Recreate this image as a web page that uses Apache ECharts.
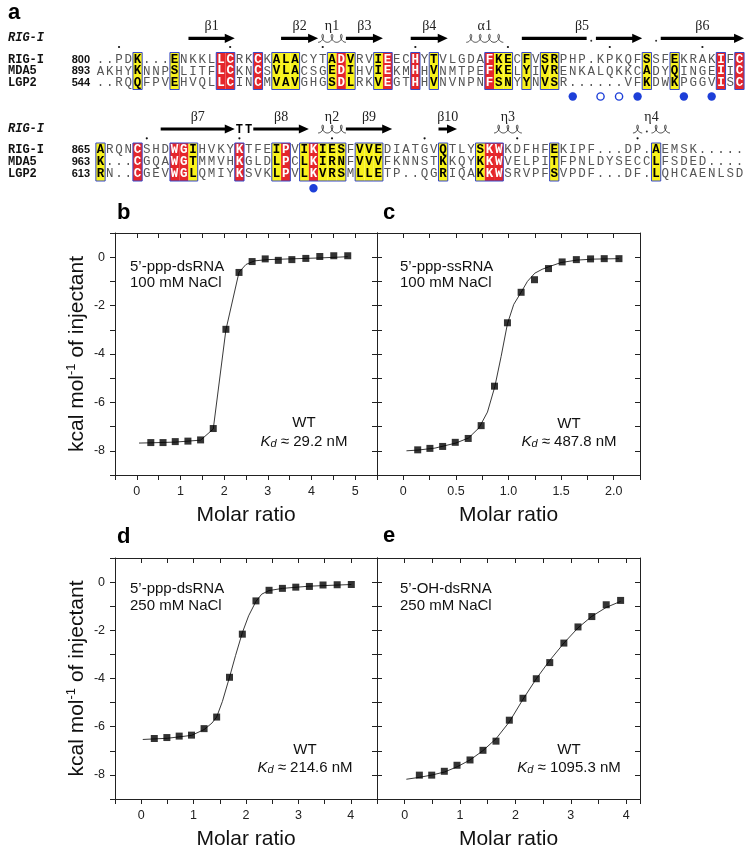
<!DOCTYPE html>
<html><head><meta charset="utf-8">
<script src="https://cdn.jsdelivr.net/npm/echarts@6/dist/echarts.min.js"></script>
<style>html,body{margin:0;padding:0;background:#fff}#c{width:751px;height:856px}</style>
</head><body><div id="c"></div>
<script>
// ================= DATA =================
// --- panel a: sequence alignment ---
const seqNames = ['RIG-I', 'MDA5', 'LGP2'];
const block1Start = [800, 893, 544];
const block1Seq = [
  '..PDK...ENKKLLCRKCKALACYTADVRVIEECHYTVLGDAFKECFVSRPHP.KPKQFSSFEKRAKIFC',
  'AKHYKNNPSLITFLCKNCSVLACSGEDIHVIEKMHHVNMTPEFKELYIVRENKALQKKCADYQINGEIIC',
  '..RQQFPVEHVQLLCINCMVAVGHGSDLRKVEGTHHVNVNPNFSNYYNVSR......VFKDWKPGGVISC'
];
const block1Red = [14, 15, 18, 27, 32, 35, 43, 68, 70];
const block1Yellow = [5, 9, 20, 21, 22, 26, 28, 31, 37, 44, 45, 47, 49, 50, 60, 63];
const block1Ticks = [3, 15, 25, 35, 45, 56, 66];
const block1Filled = [52, 59, 64, 67];
const block1Open = [55, 57];
const block1SS = [['arrow', 11, 15], ['arrow', 21, 24], ['coil', 25, 27], ['arrow', 28, 31], ['arrow', 35, 38], ['coil', 41, 44], ['line', 47, 53], ['arrow', 55, 59], ['arrow', 62, 70]];
const block1Labels = [['β1', 11, 15], ['β2', 21, 24], ['η1', 25, 27], ['β3', 28, 31], ['β4', 35, 38], ['α1', 41, 44], ['β5', 47, 59], ['β6', 62, 70]];
const block1Marks = [54, 61];

const block2Start = [865, 963, 613];
const block2Seq = [
  'ARQNCSHDWGIHVKYKTFEIPVIKIESFVVEDIATGVQTLYSKWKDFHFEKIPF...DP.AEMSK.....',
  'K...CGQAWGTMMVHKGLDLPCLKIRNFVVVFKNNSTKKQYKKWVELPITFPNLDYSECCLFSDED....',
  'RN..CGEVWGLQMIYKSVKLPVLKVRSMLLETP..QGRIQAKKWSRVPFSVPDF...DF.LQHCAENLSD'
];
const block2Red = [5, 9, 10, 16, 21, 24, 43, 44];
const block2Yellow = [1, 11, 20, 23, 25, 26, 27, 29, 30, 31, 38, 42, 50, 61];
const block2Ticks = [6, 16, 26, 36, 46, 59];
const block2Filled = [24];
const block2Open = [];
const block2SS = [['arrow', 8, 15], ['turn', 16, 17], ['arrow', 18, 23], ['coil', 25, 27], ['arrow', 28, 32], ['arrow', 38, 39], ['coil', 44, 46], ['coil', 59, 59], ['coil', 61, 62]];
const block2Labels = [['β7', 8, 15], ['β8', 18, 23], ['η2', 25, 27], ['β9', 28, 32], ['β10', 38, 39], ['η3', 44, 46], ['η4', 59, 62]];
const block2Marks = [60];

// --- ITC panels (molar ratio, kcal/mol) ---
const bX = [0.32, 0.60, 0.88, 1.17, 1.46, 1.75, 2.04, 2.34, 2.64, 2.94, 3.24, 3.55, 3.87, 4.19, 4.51, 4.83];
const bY = [-7.66, -7.66, -7.62, -7.60, -7.55, -7.08, -2.98, -0.63, -0.18, -0.07, -0.13, -0.10, -0.05, 0.03, 0.06, 0.06];
const bFitX = [0.05, 0.32, 0.88, 1.46, 1.75, 2.04, 2.34, 2.5, 2.7, 3.0, 3.5, 4.2, 4.83];
const bFitY = [-7.68, -7.67, -7.64, -7.56, -7.10, -3.00, -0.62, -0.30, -0.15, -0.10, -0.07, -0.03, 0.02];

const cX = [0.137, 0.253, 0.374, 0.494, 0.617, 0.74, 0.867, 0.99, 1.12, 1.247, 1.38, 1.51, 1.645, 1.78, 1.91, 2.05];
const cY = [-7.96, -7.90, -7.82, -7.65, -7.49, -6.96, -5.33, -2.71, -1.45, -0.93, -0.47, -0.195, -0.10, -0.07, -0.06, -0.06];
const cFitX = [0.03, 0.14, 0.3, 0.5, 0.62, 0.72, 0.8, 0.87, 0.93, 0.99, 1.05, 1.12, 1.18, 1.25, 1.32, 1.38, 1.5, 1.65, 1.8, 2.05];
const cFitY = [-8.0, -7.97, -7.89, -7.68, -7.47, -7.05, -6.4, -5.35, -4.1, -2.75, -1.95, -1.45, -1.0, -0.66, -0.5, -0.4, -0.22, -0.12, -0.08, -0.06];

const dX = [0.25, 0.49, 0.725, 0.96, 1.20, 1.44, 1.685, 1.93, 2.19, 2.44, 2.695, 2.95, 3.21, 3.47, 3.74, 4.01];
const dY = [-6.49, -6.45, -6.39, -6.35, -6.08, -5.60, -3.95, -2.16, -0.78, -0.34, -0.26, -0.21, -0.18, -0.12, -0.11, -0.10];
const dFitX = [0.03, 0.5, 0.96, 1.2, 1.35, 1.44, 1.55, 1.685, 1.8, 1.93, 2.05, 2.19, 2.3, 2.44, 2.7, 3.2, 4.01];
const dFitY = [-6.53, -6.48, -6.36, -6.12, -5.85, -5.6, -4.95, -3.95, -3.05, -2.1, -1.4, -0.8, -0.5, -0.35, -0.26, -0.17, -0.10];

const eX = [0.265, 0.488, 0.716, 0.945, 1.18, 1.414, 1.649, 1.89, 2.136, 2.377, 2.62, 2.875, 3.13, 3.38, 3.64, 3.90];
const eY = [-8.01, -8.01, -7.85, -7.60, -7.38, -6.98, -6.60, -5.73, -4.82, -4.01, -3.34, -2.53, -1.86, -1.43, -0.94, -0.76];
const eFitX = [0.03, 0.27, 0.5, 0.72, 0.95, 1.18, 1.41, 1.65, 1.89, 2.14, 2.38, 2.62, 2.88, 3.13, 3.38, 3.64, 3.9];
const eFitY = [-8.18, -8.1, -8.0, -7.88, -7.66, -7.38, -7.0, -6.5, -5.8, -4.85, -4.0, -3.25, -2.52, -1.9, -1.42, -1.05, -0.8];

const panelLetters = ['a', 'b', 'c', 'd', 'e'];
const sampleLabels = [['5’-ppp-dsRNA', '100 mM NaCl'], ['5’-ppp-ssRNA', '100 mM NaCl'], ['5’-ppp-dsRNA', '250 mM NaCl'], ['5’-OH-dsRNA', '250 mM NaCl']];
const kdValues = ['29.2', '487.8', '214.6', '1095.3'];
const xTitle = 'Molar ratio';

// ================= LAYOUT / DRAWING =================
const MONO = "'Liberation Mono','Courier New',monospace";
const SANS = "'Liberation Sans',Arial,Helvetica,sans-serif";
const SERIF = "'Liberation Serif','Times New Roman',serif";
const CW = 9.26, C0 = 100.5;
const colC = c => C0 + (c - 1) * CW;
const colL = c => colC(c) - CW / 2;
const colR = c => colC(c) + CW / 2;
const RED = '#e5262b', YEL = '#f8f21c', BLUE = '#3547c9', DOTBLUE = '#1d3fd8';

const G = [];
function txt(x, y, text, font, fill, align, valign, extra) {
  const o = { type: 'text', x: x, y: y, silent: true, z: 10, style: Object.assign({ text: text, font: font, fill: fill, textAlign: align || 'left', textVerticalAlign: valign || 'middle' }, extra || {}) };
  G.push(o); return o;
}

function drawBlock(seqs, starts, red, yellow, ticks, filled, open, ss, labels, marks, L) {
  const redS = new Set(red), yelS = new Set(yellow);
  for (let c = 1; c <= 70; c++) {
    if (redS.has(c) || yelS.has(c)) {
      G.push({ type: 'rect', silent: true, z: 1, shape: { x: colL(c), y: L.boxTop, width: CW, height: L.boxBot - L.boxTop }, style: { fill: redS.has(c) ? RED : YEL } });
    }
  }
  let c = 1;
  while (c <= 70) {
    if (redS.has(c) || yelS.has(c)) {
      let e = c;
      while (e + 1 <= 70 && (redS.has(e + 1) || yelS.has(e + 1))) e++;
      G.push({ type: 'rect', silent: true, z: 2, shape: { x: colL(c), y: L.boxTop, width: colR(e) - colL(c), height: L.boxBot - L.boxTop }, style: { fill: null, stroke: BLUE, lineWidth: 1 } });
      c = e + 1;
    } else c++;
  }
  for (let r = 0; r < 3; r++) {
    txt(8, L.rowY[r], seqNames[r], 'bold 12px ' + MONO, '#111', 'left', 'middle');
    txt(90, L.rowY[r], String(starts[r]), 'bold 11px ' + SANS, '#111', 'right', 'middle');
    for (let k = 1; k <= 70; k++) {
      const ch = seqs[r][k - 1];
      let font = '12.5px ' + MONO, fill = '#555';
      if (redS.has(k)) { font = 'bold 12.5px ' + MONO; fill = '#fff'; }
      else if (yelS.has(k)) { font = 'bold 12.5px ' + MONO; fill = '#000'; }
      txt(colC(k), L.rowY[r], ch, font, fill, 'center', 'middle');
    }
  }
  ticks.forEach(t => G.push({ type: 'circle', silent: true, shape: { cx: colC(t), cy: L.tickY, r: 1.1 }, style: { fill: '#111' } }));
  marks.forEach(t => G.push({ type: 'circle', silent: true, shape: { cx: colC(t), cy: L.ssY + 2.5, r: 1.0 }, style: { fill: '#333' } }));
  filled.forEach(t => G.push({ type: 'circle', silent: true, shape: { cx: colC(t), cy: L.circY, r: 4.2 }, style: { fill: DOTBLUE } }));
  open.forEach(t => G.push({ type: 'circle', silent: true, shape: { cx: colC(t), cy: L.circY, r: 3.6 }, style: { fill: '#fff', stroke: DOTBLUE, lineWidth: 1.4 } }));
  txt(8, L.ssY, 'RIG-I', 'italic bold 12px ' + MONO, '#111', 'left', 'middle');
  ss.forEach(s => {
    const [type, a, b] = s;
    const x1 = colL(a), x2 = colR(b), y = L.ssY;
    if (type === 'arrow') {
      const hl = 10, hh = 4.6, sh = 1.6;
      G.push({ type: 'polygon', silent: true, shape: { points: [[x1, y - sh], [x2 - hl, y - sh], [x2 - hl, y - hh], [x2, y], [x2 - hl, y + hh], [x2 - hl, y + sh], [x1, y + sh]] }, style: { fill: '#000' } });
    } else if (type === 'line') {
      G.push({ type: 'rect', silent: true, shape: { x: x1, y: y - 1.6, width: x2 - x1, height: 3.2 }, style: { fill: '#000' } });
    } else if (type === 'turn') {
      for (let k = a; k <= b; k++) txt(colC(k), y + 0.5, 'T', 'bold 12px ' + MONO, '#000', 'center', 'middle');
    } else if (type === 'coil') {
      const pts = [];
      const A = CW / (2 * Math.PI), B = 2.7, K = 4.0, base = y + 4;
      for (let k = a; k <= b; k++) {
        for (let i = 0; i <= 24; i++) {
          const t = -Math.PI + i * Math.PI / 12;
          pts.push([colC(k) + A * t - B * Math.sin(t), base - K * (1 + Math.cos(t))]);
        }
      }
      G.push({ type: 'polyline', silent: true, shape: { points: pts }, style: { stroke: '#222', lineWidth: 0.8, fill: null } });
    }
  });
  labels.forEach(l => {
    const xm = (colL(l[1]) + colR(l[2])) / 2;
    txt(xm, L.labelY, l[0], '14px ' + SERIF, '#222', 'center', 'middle');
  });
}

const lay1 = { labelY: 26, ssY: 38.3, tickY: 47, rowY: [59.5, 71.3, 83], boxTop: 52.5, boxBot: 89.5, circY: 96.5 };
const lay2 = { labelY: 117, ssY: 129, tickY: 138.3, rowY: [150, 162, 174], boxTop: 143, boxBot: 181, circY: 188.3 };
drawBlock(block1Seq, block1Start, block1Red, block1Yellow, block1Ticks, block1Filled, block1Open, block1SS, block1Labels, block1Marks, lay1);
drawBlock(block2Seq, block2Start, block2Red, block2Yellow, block2Ticks, block2Filled, block2Open, block2SS, block2Labels, block2Marks, lay2);

// panel letters (vertical middle of the em box)
const letterPos = [[8, 12.5], [117, 213], [383, 213], [117, 537], [383, 536]];
panelLetters.forEach((l, i) => txt(letterPos[i][0], letterPos[i][1], l, 'bold 22px ' + SANS, '#000', 'left', 'middle'));

// ITC panel geometry
const grids = [
  { left: 115, top: 233, width: 262, height: 242 },
  { left: 377, top: 233, width: 263, height: 242 },
  { left: 115, top: 558, width: 262, height: 241 },
  { left: 377, top: 558, width: 263, height: 241 }
];
const intFmt = v => Math.abs(v - Math.round(v)) < 1e-6 ? String(Math.round(v)) : '';
const halfFmt = v => { const h = v * 2; if (Math.abs(h - Math.round(h)) > 1e-6) return ''; if (Math.abs(v) < 1e-9) return '0'; return v.toFixed(1); };
const yFmt = v => Math.abs(v % 2) < 1e-6 ? String(Math.round(v)) : '';
const xCfg = [
  { min: -0.5, max: 5.5, interval: 0.5, fmt: intFmt },
  { min: -0.25, max: 2.25, interval: 0.25, fmt: halfFmt },
  { min: -0.5, max: 4.5, interval: 0.5, fmt: intFmt },
  { min: -0.5, max: 4.25, interval: 0.5, fmt: intFmt }
];
const dataSets = [[bX, bY, bFitX, bFitY], [cX, cY, cFitX, cFitY], [dX, dY, dFitX, dFitY], [eX, eY, eFitX, eFitY]];

const LS = { color: '#222', width: 1 };
const xAxes = [], yAxes = [], series = [];
grids.forEach((g, i) => {
  const xc = xCfg[i];
  xAxes.push({ type: 'value', gridIndex: i, position: 'bottom', min: xc.min, max: xc.max, interval: xc.interval,
    axisLine: { show: true, onZero: false, lineStyle: LS }, axisTick: { show: true, inside: false, length: 5, lineStyle: LS },
    axisLabel: { formatter: xc.fmt, fontSize: 12.5, fontFamily: SANS, color: '#222', margin: 10, showMinLabel: true, showMaxLabel: true, hideOverlap: false },
    splitLine: { show: false }, name: xTitle, nameLocation: 'middle', nameGap: 30, nameTextStyle: { fontSize: 21, fontFamily: SANS, color: '#111' } });
  xAxes.push({ type: 'value', gridIndex: i, position: 'top', min: xc.min, max: xc.max, interval: xc.interval,
    axisLine: { show: true, onZero: false, lineStyle: LS }, axisTick: { show: true, inside: true, length: 5, lineStyle: LS },
    axisLabel: { show: false }, splitLine: { show: false } });
  const outer = (i === 0 || i === 2);
  yAxes.push({ type: 'value', gridIndex: i, position: 'left', min: -9, max: 1, interval: 1,
    axisLine: { show: true, onZero: false, lineStyle: LS }, axisTick: { show: true, inside: !outer, length: 5, lineStyle: LS },
    axisLabel: { show: outer, formatter: yFmt, fontSize: 12.5, fontFamily: SANS, color: '#222', margin: 10 }, splitLine: { show: false } });
  yAxes.push({ type: 'value', gridIndex: i, position: 'right', min: -9, max: 1, interval: 1,
    axisLine: { show: true, onZero: false, lineStyle: LS }, axisTick: { show: true, inside: true, length: 5, lineStyle: LS },
    axisLabel: { show: false }, splitLine: { show: false } });
  const [px, py, fx, fy] = dataSets[i];
  series.push({ type: 'line', xAxisIndex: 2 * i, yAxisIndex: 2 * i, data: fx.map((v, k) => [v, fy[k]]), showSymbol: false, symbol: 'none', lineStyle: { color: '#222', width: 0.9 }, z: 2, silent: true });
  series.push({ type: 'scatter', xAxisIndex: 2 * i, yAxisIndex: 2 * i, data: px.map((v, k) => [v, py[k]]), symbol: 'rect', symbolSize: 7, itemStyle: { color: '#000' }, z: 3, silent: true });
});

// in-panel annotations
const annPos = [[130, 266.7, 304, 423, 442], [400, 266.7, 569, 424, 442.3], [130, 589.3, 305, 750, 768.3], [400, 589.3, 569, 750, 768.3]];
annPos.forEach((p, i) => {
  txt(p[0], p[1], sampleLabels[i][0], '15px ' + SANS, '#111', 'left', 'middle');
  txt(p[0], p[1] + 16.6, sampleLabels[i][1], '15px ' + SANS, '#111', 'left', 'middle');
  txt(p[2], p[3], 'WT', '15px ' + SANS, '#111', 'center', 'middle');
  txt(p[2], p[4], '{k|K}{d|d}{t| ≈ ' + kdValues[i] + ' nM}', '15px ' + SANS, '#111', 'center', 'middle', {
    rich: { k: { font: 'italic 15px ' + SANS, fill: '#111' }, d: { font: 'italic 11px ' + SANS, fill: '#111', verticalAlign: 'bottom' }, t: { font: '15px ' + SANS, fill: '#111' } }
  });
});

// y-axis titles
[354, 678.5].forEach(cy => {
  G.push({ type: 'text', x: 77, y: cy, rotation: Math.PI / 2, silent: true, style: {
    text: '{a|kcal mol}{s|-1}{a| of injectant}', fill: '#111', textAlign: 'center', textVerticalAlign: 'middle',
    rich: { a: { font: '21px ' + SANS, fill: '#111', lineHeight: 24 }, s: { font: '13px ' + SANS, fill: '#111', verticalAlign: 'top', lineHeight: 24 } }
  } });
});

const chart = echarts.init(document.getElementById('c'), null, { renderer: 'canvas' });
chart.setOption({
  animation: false,
  backgroundColor: '#fff',
  grid: grids,
  xAxis: xAxes,
  yAxis: yAxes,
  series: series,
  graphic: { elements: G }
});
</script></body></html>
